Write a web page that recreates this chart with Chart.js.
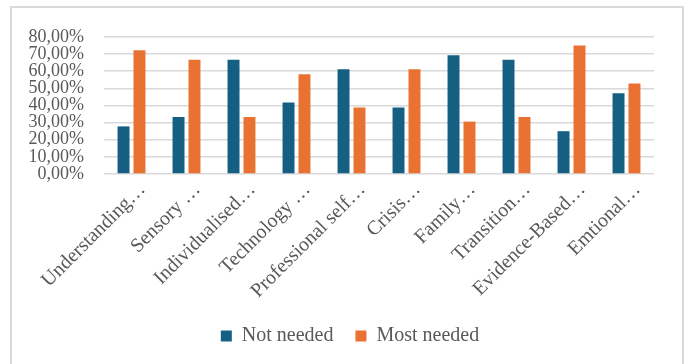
<!DOCTYPE html>
<html>
<head>
<meta charset="utf-8">
<script src="https://cdn.jsdelivr.net/npm/chart.js@4.4.1/dist/chart.umd.min.js"></script>
<style>
  html, body { margin: 0; padding: 0; background: #ffffff; }
  body { width: 686px; height: 364px; position: relative; overflow: hidden; }
  #frame {
    position: absolute; left: 10px; top: 6px; width: 674px; height: 380px;
    border: 2px solid #dadada; box-sizing: border-box;
  }
  #wrap { position: absolute; left: 0; top: 0; width: 686px; height: 364px; }
</style>
</head>
<body>
<div id="frame"></div>
<div id="wrap"><canvas id="chart"></canvas></div>
<script>
// Training topics and the share of respondents for each answer
const categories = [
  'Understanding…', 'Sensory …', 'Individualised…', 'Technology …',
  'Professional self…', 'Crisis…', 'Family…', 'Transition…',
  'Evidence-Based…', 'Emtional…'
];
const notNeeded  = [27.8, 33.3, 66.7, 41.7, 61.1, 38.9, 69.4, 66.7, 25.0, 47.2];
const mostNeeded = [72.2, 66.7, 33.3, 58.3, 38.9, 61.1, 30.6, 33.3, 75.0, 52.8];
const yTicks = [0, 10, 20, 30, 40, 50, 60, 70, 80];

const serif = "'Liberation Serif', 'Times New Roman', serif";
const labelGrey = '#595959';

// Nudge the bottom legend so it sits centred inside the frame
const legendShift = {
  id: 'legendShift',
  afterLayout(chart) {
    if (chart.legend) {
      chart.legend.left += 10;
      chart.legend.right += 10;
    }
  }
};

new Chart(document.getElementById('chart'), {
  type: 'bar',
  data: {
    labels: categories,
    datasets: [
      { label: 'Not needed', data: notNeeded, backgroundColor: '#156082',
        categoryPercentage: 0.58, barPercentage: 0.75 },
      { label: 'Most needed', data: mostNeeded, backgroundColor: '#E97132',
        categoryPercentage: 0.58, barPercentage: 0.75 }
    ]
  },
  plugins: [legendShift],
  options: {
    responsive: true,
    maintainAspectRatio: false,
    animation: false,
    layout: { padding: { left: 26, right: 32, top: 37, bottom: 8 } },
    plugins: {
      tooltip: { enabled: false },
      legend: {
        position: 'bottom',
        labels: {
          font: { family: serif, size: 20 },
          color: labelGrey,
          boxWidth: 11, boxHeight: 11,
          padding: 22
        }
      }
    },
    scales: {
      x: {
        grid: { display: false, drawTicks: false },
        border: { display: false },
        ticks: {
          font: { family: serif, size: 20 },
          color: labelGrey,
          autoSkip: false,
          minRotation: 45, maxRotation: 45,
          labelOffset: 11,
          padding: 4
        },
        afterFit: (scale) => { scale.height = 130; }
      },
      y: {
        min: 0, max: 80,
        afterBuildTicks: (scale) => { scale.ticks = yTicks.map(v => ({ value: v })); },
        grid: { color: '#d9d9d9', lineWidth: 1.6, drawTicks: false },
        border: { display: false },
        ticks: {
          font: { family: serif, size: 18 },
          color: labelGrey,
          autoSkip: false,
          padding: 20,
          callback: (v) => v.toFixed(2).replace('.', ',') + '%'
        },
        afterFit: (scale) => { scale.width = 78; }
      }
    }
  }
});
</script>
</body>
</html>
